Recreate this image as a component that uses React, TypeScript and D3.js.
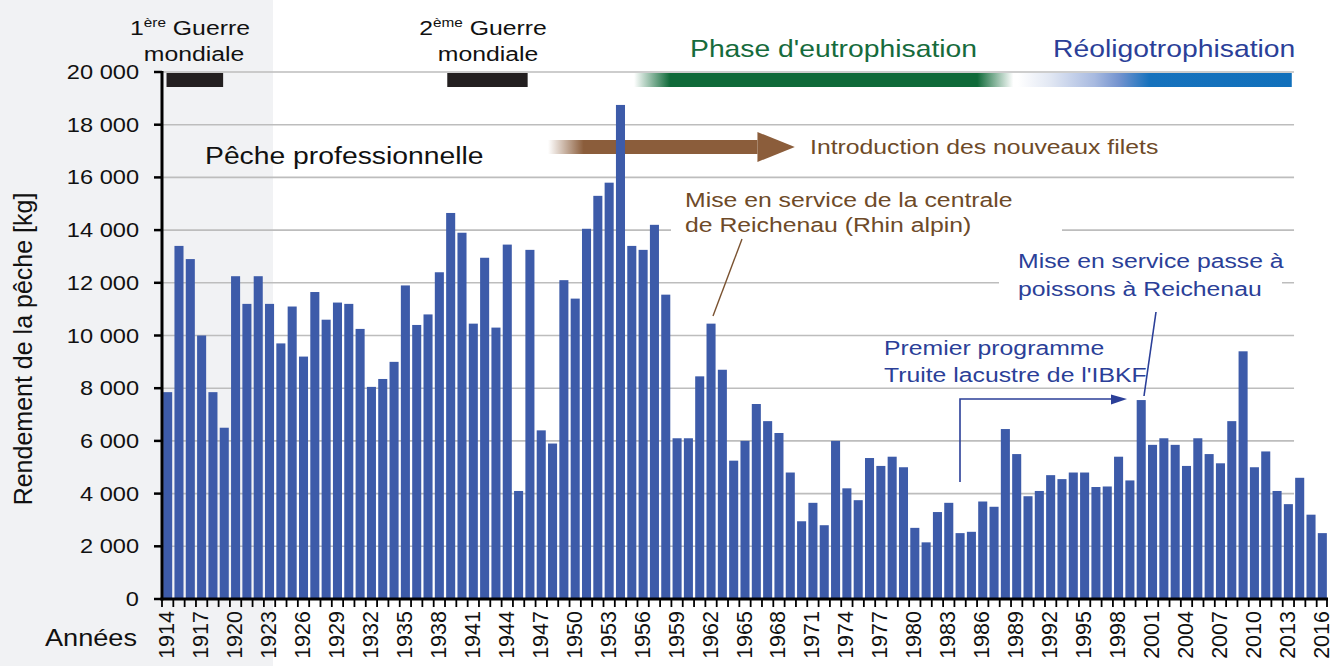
import * as d3 from "d3";

// Rendement de la pêche (kg), Rhin alpin / lac de Constance, 1914-2016
const years = d3.range(1914, 2017).map(String);
const catchKg = [
  7850, 13400, 12900, 10000, 7850, 6500, 12250, 11200, 12250, 11200,
  9700, 11100, 9200, 11650, 10600, 11250, 11200, 10250, 8050, 8350,
  9000, 11900, 10400, 10800, 12400, 14650, 13900, 10450, 12950, 10300,
  13450, 4100, 13250, 6400, 5900, 12100, 11400, 14050, 15300, 15800,
  18750, 13400, 13250, 14200, 11550, 6100, 6100, 8450, 10450, 8700,
  5250, 6000, 7400, 6750, 6300, 4800, 2950, 3650, 2800, 6000,
  4200, 3750, 5350, 5050, 5400, 5000, 2700, 2150, 3300, 3650,
  2500, 2550, 3700, 3500, 6450, 5500, 3900, 4100, 4700, 4550,
  4800, 4800, 4250, 4270, 5400, 4500, 7550, 5850, 6100, 5850,
  5050, 6100, 5500, 5150, 6750, 9400, 5000, 5600, 4100, 3600,
  4600, 3200, 2500,
];
const yTicks = [0, 2000, 4000, 6000, 8000, 10000, 12000, 14000, 16000, 18000, 20000];
const labelYears = years.filter((_, i) => i % 3 === 0);

const W = 1330;
const H = 666;
const LEFT = 162;
const RIGHT = 1328;
const TOP = 72;
const BOTTOM = 599;
const SX = 1.18; // les textes du document sont un peu étirés en largeur
const FONT = "'Liberation Sans', Arial, Helvetica, sans-serif";

const BAR = "#3d5ba9";
const BROWN = "#6e4a28";
const BLUE = "#2b3f98";
const GREEN = "#166b3c";

const Txt = ({ x, y, size, anchor = "start", fill = "#111", children }: any) => (
  <g transform={`translate(${x},${y}) scale(${SX},1)`}>
    <text fontSize={size} textAnchor={anchor} fill={fill} fontFamily={FONT}>
      {children}
    </text>
  </g>
);

const App = () => {
  const x = d3.scaleBand().domain(years).range([LEFT, RIGHT]).paddingInner(0.2).paddingOuter(0.1);
  const y = d3.scaleLinear().domain([0, 20000]).range([BOTTOM, TOP]);
  // position continue par année, pour les annotations
  const xt = d3.scaleLinear().domain([1914, 2017]).range([LEFT, RIGHT]);
  const step = x.step();
  const fmt = (v: number) => d3.format(",")(v).replace(/,/g, " ");
  const gridEnd = xt(2014);

  const bandY = TOP + 1;
  const bandH = 14;

  const arrowStart = xt(1948.1);
  const headBase = xt(1966.6);
  const headTip = xt(1969.9);

  return (
    <svg width={W} height={H} style={{ position: "absolute", left: 0, top: 0, background: "#fff" }}>
      <defs>
        <linearGradient id="green" x1="0" x2="1" y1="0" y2="0">
          <stop offset="0" stopColor="#0f6a39" stopOpacity={0} />
          <stop offset="0.095" stopColor="#0f6a39" stopOpacity={1} />
          <stop offset="0.905" stopColor="#0f6a39" stopOpacity={1} />
          <stop offset="1" stopColor="#0f6a39" stopOpacity={0} />
        </linearGradient>
        <linearGradient id="blue" x1="0" x2="1" y1="0" y2="0">
          <stop offset="0" stopColor="#ffffff" />
          <stop offset="0.12" stopColor="#e1e7f3" />
          <stop offset="0.28" stopColor="#a8bae0" />
          <stop offset="0.37" stopColor="#7393cf" />
          <stop offset="0.48" stopColor="#1672bd" />
          <stop offset="1" stopColor="#1170bb" />
        </linearGradient>
        <linearGradient id="brown" x1="0" x2="1" y1="0" y2="0">
          <stop offset="0" stopColor="#8b5d3b" stopOpacity={0} />
          <stop offset="0.17" stopColor="#8b5d3b" stopOpacity={1} />
          <stop offset="1" stopColor="#8b5d3b" stopOpacity={1} />
        </linearGradient>
      </defs>

      {/* période 1914-1923 grisée */}
      <rect x={0} y={0} width={xt(1923.8)} height={H} fill="#f1f2f4" />

      {yTicks.filter((t) => t > 0).map((t) => (
        <line key={t} x1={LEFT} x2={gridEnd} y1={y(t)} y2={y(t)} stroke="#bdbdbd" strokeWidth={1.6} />
      ))}

      {/* fonds blancs derrière les annotations */}
      <rect x={671} y={182} width={391} height={58} fill="#fff" />
      <rect x={999} y={245} width={283} height={57} fill="#fff" />

      {/* guerres mondiales */}
      <rect x={xt(1914.4)} y={bandY} width={xt(1919.4) - xt(1914.4)} height={bandH} fill="#231f20" />
      <rect x={xt(1939.2)} y={bandY} width={xt(1946.3) - xt(1939.2)} height={bandH} fill="#231f20" />

      {/* phases trophiques */}
      <rect x={xt(1955.7)} y={bandY} width={xt(1989.2) - xt(1955.7)} height={bandH} fill="url(#green)" />
      <rect x={xt(1989.6)} y={bandY} width={xt(2013.8) - xt(1989.6)} height={bandH} fill="url(#blue)" />

      {/* nouveaux filets */}
      <rect x={arrowStart} y={140} width={headBase - arrowStart} height={14} fill="url(#brown)" />
      <polygon points={`${headBase},132 ${headTip},147 ${headBase},162`} fill="#8b5d3b" />

      {years.map((yr, i) => (
        <rect key={yr} x={x(yr)} y={y(catchKg[i])} width={x.bandwidth()} height={BOTTOM - y(catchKg[i])} fill={BAR} />
      ))}

      {/* axes */}
      <line x1={LEFT} x2={LEFT} y1={TOP - 1} y2={BOTTOM + 1.5} stroke="#000" strokeWidth={3} />
      {yTicks.map((t) => (
        <g key={t}>
          <line x1={LEFT - 8} x2={LEFT} y1={y(t)} y2={y(t)} stroke="#000" strokeWidth={2.5} />
          <Txt x={139} y={y(t) + 7} size={20} anchor="end">{fmt(t)}</Txt>
        </g>
      ))}
      <line x1={LEFT - 1.5} x2={RIGHT} y1={BOTTOM} y2={BOTTOM} stroke="#000" strokeWidth={3} />
      {years.map((yr) => (
        <line key={yr} x1={x(yr)! - step * 0.1} x2={x(yr)! - step * 0.1} y1={BOTTOM} y2={BOTTOM + 8} stroke="#000" strokeWidth={1.8} />
      ))}
      <line x1={RIGHT - 1} x2={RIGHT - 1} y1={BOTTOM} y2={BOTTOM + 8} stroke="#000" strokeWidth={1.8} />
      {labelYears.map((yr) => (
        <text
          key={yr}
          transform={`translate(${x(yr)! + x.bandwidth() / 2 - 1},611) rotate(-90)`}
          dy="0.35em"
          textAnchor="end"
          fontSize={21.5}
          fontFamily={FONT}
          fill="#111"
        >
          {yr}
        </text>
      ))}

      <Txt x={45} y={646} size={23}>Années</Txt>
      <text transform="translate(32,349) rotate(-90)" textAnchor="middle" fontSize={25} fontFamily={FONT} fill="#111">
        Rendement de la pêche [kg]
      </text>

      {/* titres du haut */}
      <Txt x={190} y={35} size={21} anchor="middle">
        1<tspan fontSize={13} dy={-8}>ère</tspan>
        <tspan dy={8}> Guerre</tspan>
      </Txt>
      <Txt x={194} y={61} size={21} anchor="middle">mondiale</Txt>
      <Txt x={483} y={35} size={21} anchor="middle">
        2<tspan fontSize={13} dy={-8}>ème</tspan>
        <tspan dy={8}> Guerre</tspan>
      </Txt>
      <Txt x={488} y={61} size={21} anchor="middle">mondiale</Txt>
      <Txt x={690} y={57} size={24} fill={GREEN}>Phase d'eutrophisation</Txt>
      <Txt x={1053} y={57} size={24} fill={BLUE}>Réoligotrophisation</Txt>

      <Txt x={205} y={164} size={24}>Pêche professionnelle</Txt>
      <Txt x={810} y={154} size={21} fill={BROWN}>Introduction des nouveaux filets</Txt>

      <Txt x={685} y={207} size={21} fill={BROWN}>Mise en service de la centrale</Txt>
      <Txt x={685} y={232} size={21} fill={BROWN}>de Reichenau (Rhin alpin)</Txt>
      <line x1={742} y1={239} x2={713} y2={316} stroke="#7a5230" strokeWidth={1.4} />

      <Txt x={1018} y={268} size={21} fill={BLUE}>Mise en service passe à</Txt>
      <Txt x={1018} y={296} size={21} fill={BLUE}>poissons à Reichenau</Txt>
      <line x1={1156} y1={312} x2={1144} y2={396} stroke={BLUE} strokeWidth={1.6} />

      <Txt x={884} y={355} size={21} fill={BLUE}>Premier programme</Txt>
      <Txt x={884} y={382} size={21} fill={BLUE}>Truite lacustre de l'IBKF</Txt>
      <path d="M960,482 V399 H1114" fill="none" stroke={BLUE} strokeWidth={1.6} />
      <polygon points="1111,394.5 1127,399 1111,404.5" fill={BLUE} />
    </svg>
  );
};

export default App;
